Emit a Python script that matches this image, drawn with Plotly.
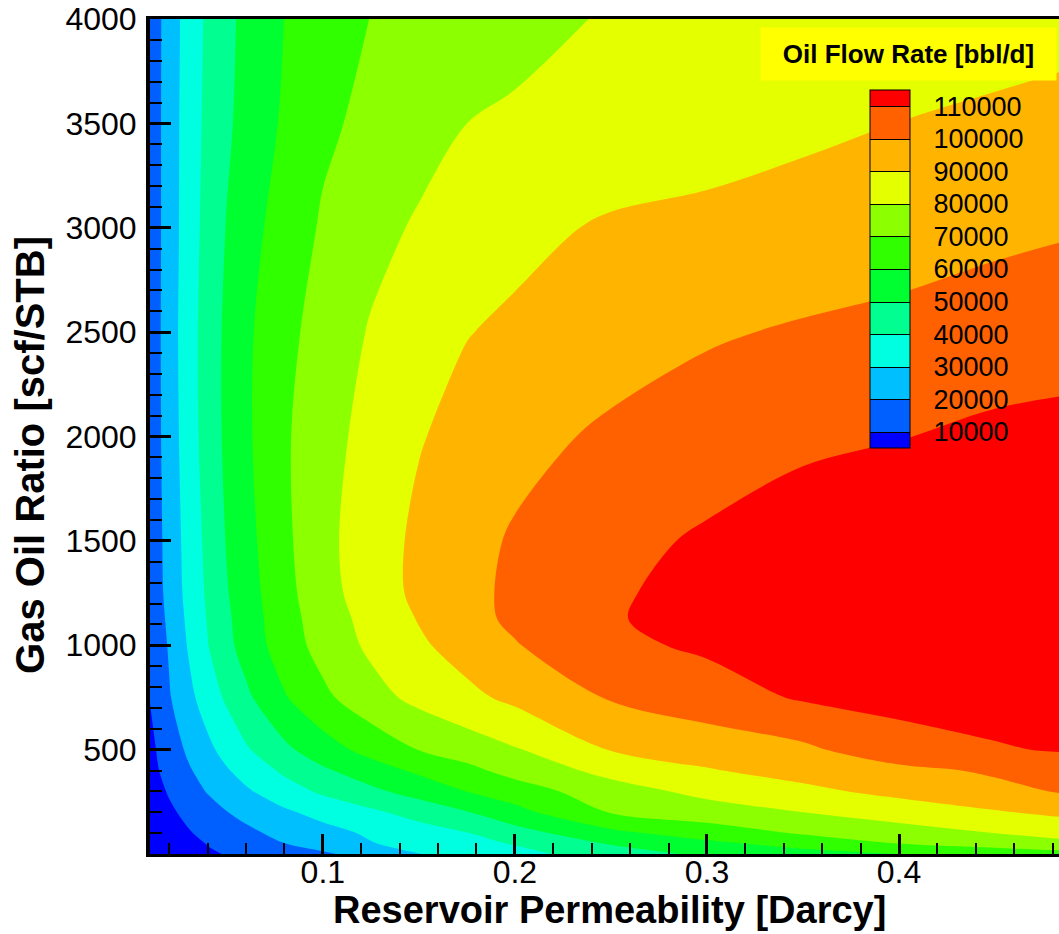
import plotly.graph_objects as go

# Reservoir permeability [Darcy] (grid columns)
perm = [0.01, 0.02, 0.03, 0.04, 0.05, 0.06, 0.08, 0.10, 0.125, 0.15, 0.175, 0.20,
        0.25, 0.30, 0.35, 0.40, 0.45, 0.50]
# Gas oil ratio [scf/STB] (grid rows)
gor = [0, 50, 100, 200, 300, 400, 500, 750, 1000, 1125, 1250, 1500, 2000, 2500, 3000, 3500, 4000]

# Oil flow rate [bbl/d], one list per GOR row
q_0    = [2500, 5500, 7500, 9000, 10400, 12000, 15300, 18500, 23800, 29800, 33300, 36800, 45100, 52000, 56000, 60000, 63500, 67000]
q_50   = [3100, 5500, 7900, 10300, 12700, 15100, 19900, 24200, 29500, 33400, 37100, 40700, 50800, 57600, 63900, 70000, 74500, 79000]
q_100  = [3600, 6400, 9300, 12200, 15000, 17900, 22600, 26600, 31400, 35500, 39700, 45800, 57400, 64800, 70900, 75600, 80000, 84000]
q_200  = [4700, 8500, 12200, 16000, 19800, 22700, 28500, 33100, 38200, 43700, 49600, 56900, 70500, 75300, 80000, 84600, 89100, 93500]
q_300  = [5900, 10800, 15700, 20600, 24600, 28700, 35600, 41600, 47800, 53900, 60100, 65200, 75600, 82800, 87700, 92600, 97400, 102000]
q_400  = [7200, 13100, 18900, 24100, 29200, 33600, 41800, 48500, 55500, 61800, 67400, 73500, 83100, 89300, 93600, 97600, 101300, 103500]
q_500  = [7800, 14800, 21600, 27700, 33400, 38900, 47900, 55500, 63400, 70200, 74700, 79200, 90500, 94300, 98100, 106000, 109300, 111200]
q_750  = [10300, 19200, 27300, 34700, 41600, 48000, 59200, 67800, 76400, 82700, 87600, 92300, 100800, 105700, 111000, 113000, 113500, 114000]
q_1000 = [11500, 21000, 30800, 39700, 47400, 54000, 65000, 73600, 81900, 88500, 94100, 99400, 108000, 111500, 112300, 113000, 113500, 113800]
q_1125 = [12000, 22200, 32000, 40600, 48300, 54800, 66000, 74800, 83400, 90500, 96900, 101800, 109600, 111800, 112600, 113400, 114000, 114300]
q_1250 = [12500, 23400, 33000, 41500, 49400, 55600, 66900, 76200, 85100, 92100, 97600, 101800, 109300, 111800, 112800, 113600, 114200, 114600]
q_1500 = [13000, 23900, 33700, 42500, 50600, 56800, 67900, 77200, 85500, 91900, 96900, 101100, 106800, 111500, 112500, 113300, 114000, 114500]
q_2000 = [13500, 24800, 35100, 44400, 52000, 58300, 68700, 76200, 83400, 89400, 93000, 96800, 101800, 104100, 109000, 109800, 112000, 113000]
q_2500 = [13500, 25100, 35700, 44500, 52000, 58200, 67200, 74000, 80800, 85300, 89700, 91600, 95100, 99100, 100900, 102300, 104500, 106000]
q_3000 = [13500, 24800, 35000, 43500, 50500, 56000, 64600, 71100, 76900, 81200, 83900, 87500, 91200, 92500, 94300, 96100, 97900, 99600]
q_3500 = [13500, 24800, 34700, 42400, 48500, 53300, 61400, 68200, 72400, 76200, 80000, 81100, 83400, 85600, 87900, 90100, 91600, 93200]
q_4000 = [13500, 24600, 34100, 41800, 47800, 52400, 60100, 64700, 70200, 72700, 75200, 77700, 80700, 82100, 83500, 84900, 86300, 87700]

rate = [q_0, q_50, q_100, q_200, q_300, q_400, q_500, q_750, q_1000, q_1125,
        q_1250, q_1500, q_2000, q_2500, q_3000, q_3500, q_4000]

levels = [10000, 20000, 30000, 40000, 50000, 60000, 70000, 80000, 90000, 100000, 110000]
level_labels = [str(v) for v in levels]
band_colors = ["#0000ff", "#0060ff", "#00bfff", "#00ffe0", "#00ff90", "#00ff30",
               "#30ff00", "#8cff00", "#e4ff00", "#ffb400", "#ff6000", "#ff0000"]

x_ticks = [0.1, 0.2, 0.3, 0.4]
y_ticks = [500, 1000, 1500, 2000, 2500, 3000, 3500, 4000]

FONT = "Liberation Sans, Arial, sans-serif"
n = len(band_colors) - 1
cscale = [[i / n, c] for i, c in enumerate(band_colors)]
contours = dict(start=levels[0], end=levels[-1], size=levels[1] - levels[0], coloring="fill")

fig = go.Figure()
fig.add_trace(go.Contour(
    x=perm, y=gor, z=rate, autocontour=False,
    contours=dict(contours, showlines=False),
    colorscale=cscale, showscale=False, hoverinfo="skip",
))
# same field again, transparent, only to carry the colour legend with band separators
fig.add_trace(go.Contour(
    x=perm, y=gor, z=rate, autocontour=False,
    contours=dict(contours, showlines=True),
    line=dict(color="black", width=1),
    colorscale=cscale, opacity=0, showscale=True, hoverinfo="skip",
    colorbar=dict(
        x=0.792, xanchor="left", xpad=0,
        y=0.915, yanchor="top", ypad=0,
        len=0.4287, lenmode="fraction",
        thickness=40, thicknessmode="pixels",
        outlinewidth=1, outlinecolor="black",
        tickmode="array", tickvals=levels, ticktext=level_labels,
        ticks="outside", ticklen=18, tickcolor="rgba(0,0,0,0)",
        tickfont=dict(family=FONT, size=27, color="black"),
    ),
))

fig.update_layout(
    width=1059, height=934,
    margin=dict(l=150, r=0, t=19, b=80, autoexpand=False),
    paper_bgcolor="white", plot_bgcolor="white",
    showlegend=False,
    xaxis=dict(
        range=[0.01, 0.4833], showgrid=False, zeroline=False,
        showline=True, linecolor="black", linewidth=3, mirror=True,
        tickmode="array", tickvals=x_ticks, ticktext=[str(v) for v in x_ticks],
        ticks="inside", ticklen=20, tickwidth=3, tickcolor="black",
        minor=dict(ticks="inside", ticklen=11, tickwidth=1.5, tickcolor="black",
                   tickmode="linear", tick0=0, dtick=0.02, showgrid=False),
        tickfont=dict(family=FONT, size=32, color="black"),
        ticklabelstandoff=-12,
    ),
    yaxis=dict(
        range=[0, 4000], showgrid=False, zeroline=False,
        showline=True, linecolor="black", linewidth=4,
        tickmode="array", tickvals=y_ticks, ticktext=[str(v) for v in y_ticks],
        ticks="inside", ticklen=21, tickwidth=3, tickcolor="black",
        minor=dict(ticks="inside", ticklen=12, tickwidth=1.5, tickcolor="black",
                   tickmode="linear", tick0=0, dtick=100, showgrid=False),
        tickfont=dict(family=FONT, size=32, color="black"),
        ticklabelstandoff=3,
    ),
    annotations=[
        dict(text="<b>Oil Flow Rate [bbl/d]</b>", xref="paper", yref="paper",
             x=0.8344, y=0.9585, xanchor="center", yanchor="middle",
             showarrow=False, bgcolor="#ffff00", width=293, height=50,
             font=dict(family=FONT, size=26, color="black")),
        dict(text="<b>Reservoir Permeability [Darcy]</b>", xref="paper", yref="paper",
             x=0.505, y=-0.0665, xanchor="center", yanchor="middle",
             showarrow=False, font=dict(family=FONT, size=38, color="black")),
        dict(text="<b>Gas Oil Ratio [scf/STB]</b>", xref="paper", yref="paper",
             x=-0.132, y=0.478, xanchor="center", yanchor="middle", textangle=-90,
             showarrow=False, font=dict(family=FONT, size=40, color="black")),
    ],
)

fig.write_html("out.html")
